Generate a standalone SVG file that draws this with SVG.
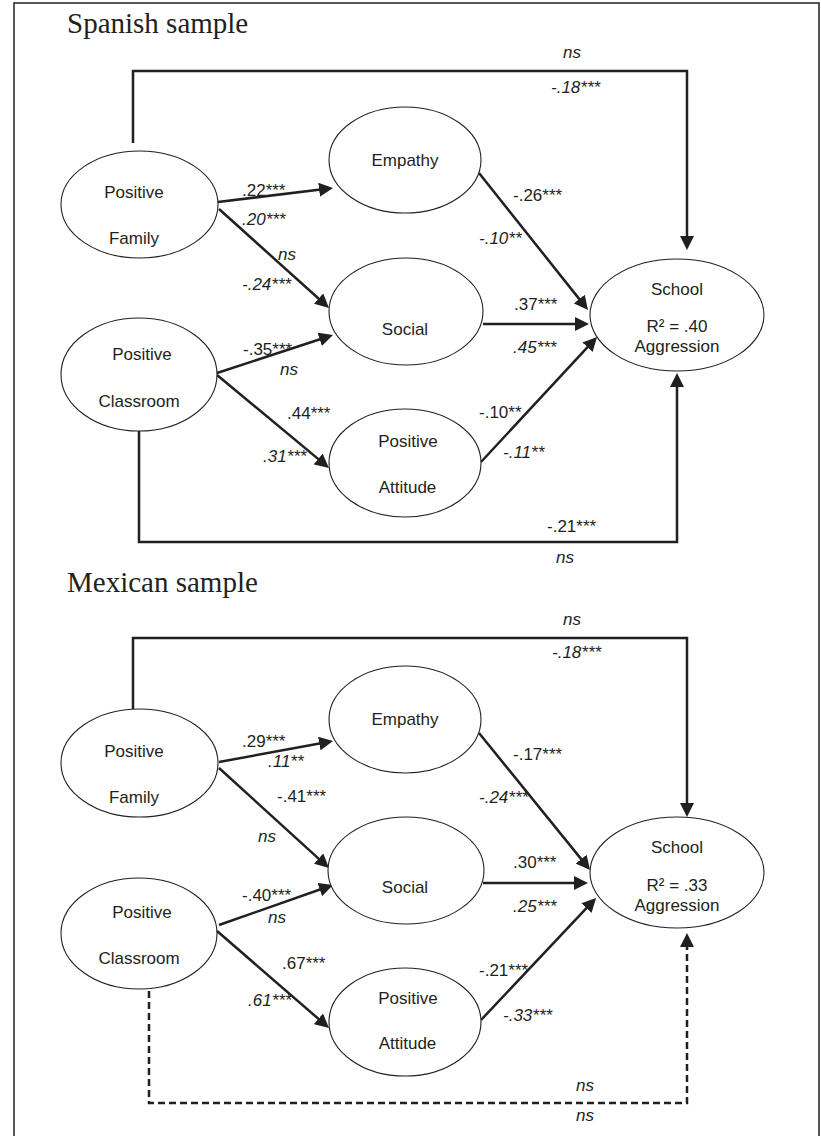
<svg xmlns="http://www.w3.org/2000/svg" width="821" height="1136" viewBox="0 0 821 1136">
<style>
.bg{fill:#ffffff}
.frame{fill:none;stroke:#231f20;stroke-width:1.5}
.node ellipse{fill:#ffffff;stroke:#231f20;stroke-width:1.1}
.lbl{font-family:"Liberation Sans",Arial,sans-serif;font-size:17px;fill:#231f20}
.nt{font-family:"Liberation Sans",Arial,sans-serif;font-size:17px;fill:#231f20;text-anchor:middle}
.it{font-style:italic}
.title{font-family:"Liberation Serif","Times New Roman",serif;font-size:29px;fill:#231f20}
.edge{fill:none;stroke:#231f20;stroke-width:2.5;marker-end:url(#arr)}
.dash{stroke-dasharray:7 4}
</style>
<defs>
<marker id="arr" markerUnits="userSpaceOnUse" markerWidth="14" markerHeight="14" viewBox="0 0 14 14" refX="10" refY="7" orient="auto">
<path d="M0,0 L14,7 L0,14 z" fill="#231f20"/>
</marker>
</defs>
<rect class="bg" x="0" y="0" width="821" height="1136"/>
<path class="frame" d="M14 1140 V3 H819 V1140"/>

<text class="title" x="67" y="33">Spanish sample</text>
<text class="title" x="67" y="592">Mexican sample</text>

<g id="connectors">
<!-- Spanish -->
<path class="edge" d="M133 143 V71 H687 V246"/>
<path class="edge" d="M218 202 L329 188.5"/>
<path class="edge" d="M219 209 L326 305.3"/>
<path class="edge" d="M217 373 L329.2 336.2"/>
<path class="edge" d="M217 375 L325.9 465.4"/>
<path class="edge" d="M479 173 L585.5 306.9"/>
<path class="edge" d="M483 324 L585 324"/>
<path class="edge" d="M481 462 L594.3 339.9"/>
<path class="edge" d="M139 431 V542 H677 V377"/>
<!-- Mexican -->
<path class="edge" d="M133 709 V638 H687 V813"/>
<path class="edge" d="M219 762 L329.1 741.7"/>
<path class="edge" d="M219 768 L326 865.3"/>
<path class="edge" d="M219 925 L329.2 886.3"/>
<path class="edge" d="M217 931 L326 1025.4"/>
<path class="edge" d="M479 733 L587.5 866.9"/>
<path class="edge" d="M483 883 L584 883"/>
<path class="edge" d="M481 1020 L593.3 900.9"/>
<path class="edge dash" d="M149 991 V1103 H687 V937"/>
</g>

<g id="edge-labels">
<!-- Spanish -->
<text class="lbl it" x="572" y="58" text-anchor="middle">ns</text>
<text class="lbl it" x="551" y="93">-.18***</text>
<text class="lbl" x="242" y="196">.22***</text>
<text class="lbl it" x="242" y="225">.20***</text>
<text class="lbl it" x="278" y="260">ns</text>
<text class="lbl it" x="242" y="290">-.24***</text>
<text class="lbl" x="243" y="355">-.35***</text>
<text class="lbl it" x="280" y="375">ns</text>
<text class="lbl" x="287" y="419">.44***</text>
<text class="lbl it" x="263" y="462">.31***</text>
<text class="lbl" x="513" y="201">-.26***</text>
<text class="lbl it" x="479" y="244">-.10**</text>
<text class="lbl" x="514" y="310">.37***</text>
<text class="lbl it" x="513" y="353">.45***</text>
<text class="lbl" x="479" y="418">-.10**</text>
<text class="lbl it" x="503" y="458">-.11**</text>
<text class="lbl" x="547" y="532">-.21***</text>
<text class="lbl it" x="565" y="563" text-anchor="middle">ns</text>
<!-- Mexican -->
<text class="lbl it" x="572" y="625" text-anchor="middle">ns</text>
<text class="lbl it" x="552" y="658">-.18***</text>
<text class="lbl" x="242" y="747">.29***</text>
<text class="lbl it" x="268" y="767">.11**</text>
<text class="lbl" x="277" y="802">-.41***</text>
<text class="lbl it" x="258" y="842">ns</text>
<text class="lbl" x="242" y="901">-.40***</text>
<text class="lbl it" x="268" y="923">ns</text>
<text class="lbl" x="282" y="969">.67***</text>
<text class="lbl it" x="248" y="1006">.61***</text>
<text class="lbl" x="513" y="760">-.17***</text>
<text class="lbl it" x="479" y="803">-.24***</text>
<text class="lbl" x="513" y="868">.30***</text>
<text class="lbl it" x="513" y="912">.25***</text>
<text class="lbl" x="479" y="976">-.21***</text>
<text class="lbl it" x="503" y="1021">-.33***</text>
<text class="lbl it" x="585" y="1091" text-anchor="middle">ns</text>
<text class="lbl it" x="585" y="1121" text-anchor="middle">ns</text>
</g>

<!-- Spanish nodes -->
<g id="es-family" class="node">
<ellipse cx="139.5" cy="204.5" rx="78.5" ry="53.5"/>
<text class="nt" x="134" y="198">Positive</text>
<text class="nt" x="134" y="244">Family</text>
</g>
<g id="es-classroom" class="node">
<ellipse cx="139" cy="374.5" rx="78" ry="56.5"/>
<text class="nt" x="142" y="360">Positive</text>
<text class="nt" x="139" y="407">Classroom</text>
</g>
<g id="es-empathy" class="node">
<ellipse cx="405" cy="160" rx="76" ry="53"/>
<text class="nt" x="405" y="166">Empathy</text>
</g>
<g id="es-social" class="node">
<ellipse cx="406" cy="311.5" rx="77" ry="53.5"/>
<text class="nt" x="405" y="335">Social</text>
</g>
<g id="es-attitude" class="node">
<ellipse cx="405" cy="463" rx="76" ry="54"/>
<text class="nt" x="408" y="447">Positive</text>
<text class="nt" x="407.5" y="493">Attitude</text>
</g>
<g id="es-school" class="node">
<ellipse cx="677" cy="315" rx="87" ry="56"/>
<text class="nt" x="677" y="295">School</text>
<text class="nt" x="677" y="332">R² = .40</text>
<text class="nt" x="677" y="352">Aggression</text>
</g>

<!-- Mexican nodes -->
<g id="mx-family" class="node">
<ellipse cx="139.5" cy="763" rx="78.5" ry="54"/>
<text class="nt" x="134" y="757">Positive</text>
<text class="nt" x="134" y="803">Family</text>
</g>
<g id="mx-classroom" class="node">
<ellipse cx="139" cy="933.5" rx="78" ry="55.5"/>
<text class="nt" x="142" y="918">Positive</text>
<text class="nt" x="139" y="964">Classroom</text>
</g>
<g id="mx-empathy" class="node">
<ellipse cx="405" cy="719.5" rx="76" ry="53.5"/>
<text class="nt" x="405" y="725">Empathy</text>
</g>
<g id="mx-social" class="node">
<ellipse cx="406" cy="870.5" rx="78" ry="53.5"/>
<text class="nt" x="405" y="893">Social</text>
</g>
<g id="mx-attitude" class="node">
<ellipse cx="405" cy="1022" rx="76" ry="54"/>
<text class="nt" x="408" y="1004">Positive</text>
<text class="nt" x="407.5" y="1049">Attitude</text>
</g>
<g id="mx-school" class="node">
<ellipse cx="677" cy="872.5" rx="87" ry="55.5"/>
<text class="nt" x="677" y="853">School</text>
<text class="nt" x="677" y="891">R² = .33</text>
<text class="nt" x="677" y="911">Aggression</text>
</g>
</svg>
